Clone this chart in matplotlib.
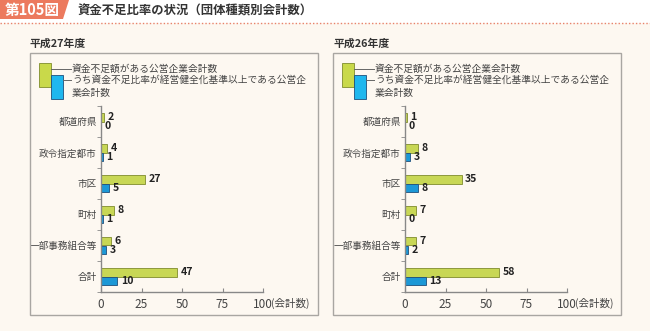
import numpy as np
import matplotlib.pyplot as plt
from matplotlib.patches import Rectangle, Polygon
from matplotlib.lines import Line2D

plt.rcParams['font.family'] = ['Noto Sans CJK JP', 'DejaVu Sans']

categories = ['都道府県', '政令指定都市', '市区', '町村', '一部事務組合等', '合計']
h27_deficit = [2, 4, 27, 8, 6, 47]
h27_over = [0, 1, 5, 1, 3, 10]
h26_deficit = [1, 8, 35, 7, 7, 58]
h26_over = [0, 3, 8, 0, 2, 13]
xticks = [0, 25, 50, 75, 100]
panel_titles = ['平成27年度', '平成26年度']
legend_labels = ['資金不足額がある公営企業会計数',
                 'うち資金不足比率が経営健全化基準以上である公営企\n業会計数']

W, H = 650, 331
BG = '#fdf8f1'
GREEN = '#c8d755'
GREEN_EDGE = '#7f8c2c'
BLUE = '#1c98d6'
BLUE_EDGE = '#1d4f7c'
TXT = '#333333'


def fx(x):
    return x / W


def fy(y):
    return 1 - y / H


fig = plt.figure(figsize=(6.5, 3.31), dpi=100)
fig.patch.set_facecolor(BG)

# header strip
fig.patches.append(Rectangle((0, fy(23)), 1, 1 - fy(23), transform=fig.transFigure,
                             facecolor='white', edgecolor='none', zorder=0))
fig.patches.append(Polygon([(fx(0), fy(0)), (fx(69), fy(0)), (fx(63), fy(19)), (fx(0), fy(19))],
                           closed=True, transform=fig.transFigure,
                           facecolor='#ec7a5e', edgecolor='none', zorder=1))
fig.text(fx(32), fy(10), '第105図', color='white', fontsize=10.5, fontweight='bold',
         ha='center', va='center')
fig.text(fx(78), fy(11), '資金不足比率の状況（団体種類別会計数）', color=TXT, fontsize=8.9,
         fontweight='bold', ha='left', va='center')
fig.lines.append(Line2D([0, 1], [fy(23), fy(23)], transform=fig.transFigure,
                        color='#e8826b', lw=1, linestyle=(0, (1, 1.5))))

panels = [
    (0, h27_deficit, h27_over, 101),
    (303, h26_deficit, h26_over, 405),
]

y = np.arange(len(categories))
bh = 0.27

for i, (off, dvals, ovals, ax_x) in enumerate(panels):
    # panel frame and title
    fig.patches.append(Rectangle((fx(30 + off), fy(315)), fx(288), (315 - 53) / H,
                                 transform=fig.transFigure, facecolor='none',
                                 edgecolor='#a9a6a2', lw=1))
    fig.text(fx(30 + off), fy(44), panel_titles[i], color=TXT, fontsize=7.8,
             fontweight='bold', ha='left', va='center')

    # legend
    fig.patches.append(Rectangle((fx(39 + off), fy(87)), fx(12), 24 / H,
                                 transform=fig.transFigure, facecolor='#c9d94a',
                                 edgecolor=GREEN_EDGE, lw=0.6))
    fig.patches.append(Rectangle((fx(51 + off), fy(99)), fx(12), 24 / H,
                                 transform=fig.transFigure, facecolor='#1fb7ee',
                                 edgecolor=BLUE_EDGE, lw=0.6))
    fig.lines.append(Line2D([fx(51 + off), fx(71 + off)], [fy(69), fy(69)],
                            transform=fig.transFigure, color='#666', lw=0.7))
    fig.lines.append(Line2D([fx(63 + off), fx(71 + off)], [fy(80), fy(80)],
                            transform=fig.transFigure, color='#666', lw=0.7))
    fig.text(fx(72 + off), fy(69), legend_labels[0], color='#444', fontsize=7.0,
             ha='left', va='center')
    fig.text(fx(72 + off), fy(74.5), legend_labels[1], color='#444', fontsize=7.0,
             ha='left', va='top', linespacing=1.4)

    ax = fig.add_axes([fx(ax_x), fy(292), fx(162), (292 - 106) / H])
    ax.set_facecolor('none')
    ax.barh(y - bh / 2, dvals, height=bh, color=GREEN, edgecolor=GREEN_EDGE, lw=0.6)
    ax.barh(y + bh / 2, ovals, height=bh, color=BLUE, edgecolor=BLUE_EDGE, lw=0.6)
    for yy, v in zip(y, dvals):
        ax.annotate(str(v), (v, yy - bh / 2), xytext=(2.5, 0), textcoords='offset points',
                    ha='left', va='center', fontsize=7.6, fontweight='bold', color='#222')
    for yy, v in zip(y, ovals):
        ax.annotate(str(v), (v, yy + bh / 2), xytext=(2.5, 0), textcoords='offset points',
                    ha='left', va='center', fontsize=7.6, fontweight='bold', color='#222')

    ax.set_xlim(0, 100)
    ax.set_ylim(len(categories) - 0.5, -0.5)
    ax.set_yticks(y)
    ax.set_yticklabels(categories, fontsize=6.9, color='#444')
    ax.set_yticks(np.arange(len(categories) + 1) - 0.5, minor=True)
    ax.tick_params(axis='y', which='major', length=0, pad=3)
    ax.tick_params(axis='y', which='minor', length=3, direction='out', color='#888')
    ax.set_xticks(xticks)
    ax.set_xticklabels([str(t) for t in xticks], fontsize=8.5, color='#444')
    ax.tick_params(axis='x', length=3, direction='in', color='#888', pad=4)
    ax.annotate('(会計数)', (100, 0), xycoords=('data', 'axes fraction'),
                xytext=(5.5, -4), textcoords='offset points', ha='left', va='top',
                fontsize=7.6, color='#444')
    for s in ['top', 'right']:
        ax.spines[s].set_visible(False)
    for s in ['left', 'bottom']:
        ax.spines[s].set_color('#888')
        ax.spines[s].set_linewidth(1)

fig.savefig('out.png', dpi=100, facecolor=fig.get_facecolor())
